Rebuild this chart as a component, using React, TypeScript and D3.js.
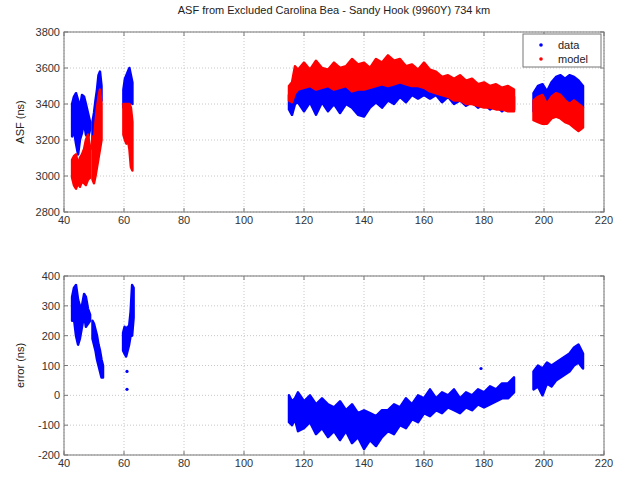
import React from "react";
import * as d3 from "d3";

const width = 631;
const height = 481;

const titleText = "ASF from Excluded Carolina Bea - Sandy Hook (9960Y) 734 km";
const xTicks = [40, 60, 80, 100, 120, 140, 160, 180, 200, 220];
const asfTicks = [2800, 3000, 3200, 3400, 3600, 3800];
const errTicks = [-200, -100, 0, 100, 200, 300, 400];

// each series is split in segments (gaps in the record); lo/hi = band edges of the dots
const seg1X = [42.7, 43.3, 44, 44.7, 45.3, 46, 46.7, 47.3, 48, 48.7];
const seg2X = [49.5, 50, 50.5, 51, 51.5, 52, 52.5];
const seg3X = [59.8, 60.3, 60.8, 61.3, 61.8, 62.3, 62.8];
const mainX = [115, 116, 117, 118, 120, 122, 124, 126, 128, 130, 132, 134, 136, 138, 140, 142, 144, 146, 148, 150,
  152, 154, 156, 158, 160, 162, 164, 166, 168, 170, 172, 174, 176, 178, 180, 182, 184, 186, 188, 190];
const lastX = [196.5, 198, 199.5, 201, 202.5, 204, 205.5, 207, 208.5, 210, 211.5, 213];

// ASF measured (blue)
const dataHi1 = [3400, 3440, 3460, 3420, 3380, 3450, 3440, 3400, 3350, 3300];
const dataLo1 = [3220, 3260, 3180, 3120, 3200, 3240, 3300, 3230, 3210, 3260];
const dataHi2 = [3300, 3350, 3420, 3480, 3560, 3580, 3500];
const dataLo2 = [3150, 3160, 3220, 3300, 3350, 3400, 3420];
const dataHi3 = [3480, 3540, 3560, 3580, 3600, 3560, 3520];
const dataLo3 = [3380, 3400, 3400, 3390, 3400, 3420, 3400];
const dataHiMain = [3450, 3470, 3480, 3500, 3510, 3520, 3500, 3510, 3520, 3500, 3510, 3520, 3500, 3510, 3490, 3520, 3530, 3540, 3550, 3540,
  3550, 3540, 3550, 3560, 3540, 3520, 3510, 3500, 3500, 3490, 3480, 3470, 3470, 3460, 3460, 3450, 3460, 3450, 3450, 3440];
const dataLoMain = [3370, 3340, 3400, 3410, 3360, 3410, 3340, 3410, 3360, 3400, 3350, 3400, 3380, 3340, 3330, 3380, 3410, 3380, 3420, 3400,
  3440, 3410, 3450, 3430, 3450, 3430, 3450, 3410, 3440, 3400, 3420, 3390, 3410, 3380, 3400, 3370, 3390, 3360, 3390, 3370];
const dataHiLast = [3460, 3500, 3510, 3470, 3520, 3550, 3560, 3540, 3560, 3550, 3530, 3500];
const dataLoLast = [3360, 3380, 3400, 3380, 3400, 3420, 3420, 3400, 3400, 3420, 3400, 3380];

// ASF model (red)
const modelHi1 = [3090, 3110, 3120, 3060, 3100, 3120, 3150, 3200, 3230, 3160];
const modelLo1 = [2990, 2950, 2930, 2960, 2940, 2970, 2960, 2950, 2980, 2990];
const modelHi2 = [3220, 3200, 3300, 3380, 3440, 3480, 3400];
const modelLo2 = [2980, 2960, 3000, 3050, 3100, 3150, 3200];
const modelHi3 = [3400, 3400, 3400, 3400, 3400, 3380, 3300];
const modelLo3 = [3230, 3200, 3180, 3200, 3150, 3050, 3030];
const modelHiMain = [3500, 3520, 3610, 3590, 3630, 3590, 3640, 3600, 3590, 3630, 3600, 3610, 3650, 3620, 3630, 3600, 3650, 3630, 3670, 3640,
  3650, 3610, 3620, 3590, 3630, 3590, 3580, 3550, 3560, 3540, 3560, 3530, 3540, 3510, 3520, 3500, 3510, 3490, 3500, 3480];
const modelLoMain = [3420, 3410, 3460, 3480, 3490, 3500, 3480, 3490, 3500, 3480, 3490, 3500, 3470, 3480, 3480, 3490, 3500, 3510, 3500, 3510,
  3520, 3510, 3500, 3500, 3490, 3470, 3460, 3450, 3440, 3420, 3420, 3400, 3400, 3390, 3380, 3380, 3370, 3370, 3360, 3360];
const modelHiLast = [3420, 3440, 3450, 3400, 3440, 3460, 3450, 3420, 3400, 3420, 3400, 3380];
const modelLoLast = [3310, 3300, 3290, 3290, 3320, 3330, 3320, 3300, 3290, 3270, 3250, 3270];

// error (blue)
const errX3 = [59.7, 60.2, 60.7, 61.2, 61.7, 62.2, 62.7, 63.2];
const errX2 = [49.5, 50, 50.5, 51, 51.5, 52, 52.5, 53];
const errHi1 = [330, 360, 370, 320, 300, 300, 340, 330, 290, 270];
const errLo1 = [250, 260, 200, 170, 190, 230, 270, 230, 240, 250];
const errHi2 = [250, 240, 220, 200, 170, 150, 120, 100];
const errLo2 = [190, 170, 150, 120, 100, 80, 60, 60];
const errHi3 = [210, 230, 220, 230, 230, 280, 370, 360];
const errLo3 = [150, 140, 130, 150, 170, 200, 200, 260];
const errHiMain = [0, -20, -10, 10, -20, 0, -30, -10, -30, -40, -20, -50, -30, -60, -50, -60, -70, -50, -50, -30,
  -40, -10, -30, 0, -10, 20, -10, 10, 0, 20, -10, 10, 0, 20, 10, 30, 20, 40, 40, 60];
const errLoMain = [-90, -100, -80, -120, -110, -90, -130, -110, -140, -120, -150, -120, -160, -140, -180, -150, -170, -140, -120, -130,
  -100, -110, -80, -90, -60, -70, -50, -60, -40, -50, -60, -40, -50, -30, -40, -30, -20, -10, -10, 10];
const errHiLast = [80, 100, 90, 110, 100, 110, 120, 130, 140, 160, 170, 140];
const errLoLast = [20, 30, 0, 40, 30, 50, 60, 70, 80, 100, 110, 90];
const errOutX = [61, 61, 179];
const errOutY = [80, 20, 90];

const top = { y0: 32, y1: 212 };
const bottom = { y0: 276, y1: 455 };
const left = 64;
const right = 604;

const x = d3.scaleLinear().domain([40, 220]).range([left, right]);
const yAsf = d3.scaleLinear().domain([2800, 3800]).range([top.y1, top.y0]);
const yErr = d3.scaleLinear().domain([-200, 400]).range([bottom.y1, bottom.y0]);

type Band = { xs: number[]; lo: number[]; hi: number[] };

function Bands({ bands, y, color }: { bands: Band[]; y: d3.ScaleLinear<number, number>; color: string }) {
  return (
    <g>
      {bands.map((b, k) => {
        const gen = d3.area<number>()
          .x((d) => x(d))
          .y0((_, i) => y(b.lo[i]))
          .y1((_, i) => y(b.hi[i]));
        return (
          <path key={k} d={gen(b.xs) || ""} fill={color} stroke={color} strokeWidth={2.5} strokeLinejoin="round" />
        );
      })}
    </g>
  );
}

function Frame({ y, ticks, y0, y1 }: { y: d3.ScaleLinear<number, number>; ticks: number[]; y0: number; y1: number }) {
  return (
    <g fontFamily="Arial, 'Liberation Sans', sans-serif" fontSize={11} fill="#333">
      {xTicks.map((t) => (
        <g key={"x" + t}>
          <line x1={x(t)} x2={x(t)} y1={y0} y2={y1} stroke="#c8c8c8" strokeDasharray="1,2" />
          <line x1={x(t)} x2={x(t)} y1={y1} y2={y1 - 4} stroke="#777" />
          <line x1={x(t)} x2={x(t)} y1={y0} y2={y0 + 4} stroke="#777" />
          <text x={x(t)} y={y1 + 12} textAnchor="middle">{t}</text>
        </g>
      ))}
      {ticks.map((t) => (
        <g key={"y" + t}>
          <line x1={left} x2={right} y1={y(t)} y2={y(t)} stroke="#c8c8c8" strokeDasharray="1,2" />
          <line x1={left} x2={left + 4} y1={y(t)} y2={y(t)} stroke="#777" />
          <line x1={right} x2={right - 4} y1={y(t)} y2={y(t)} stroke="#777" />
          <text x={left - 4} y={y(t) + 4} textAnchor="end">{t}</text>
        </g>
      ))}
      <rect x={left} y={y0} width={right - left} height={y1 - y0} fill="none" stroke="#777" />
    </g>
  );
}

export default function App() {
  const dataBands: Band[] = [
    { xs: seg1X, lo: dataLo1, hi: dataHi1 },
    { xs: seg2X, lo: dataLo2, hi: dataHi2 },
    { xs: seg3X, lo: dataLo3, hi: dataHi3 },
    { xs: mainX, lo: dataLoMain, hi: dataHiMain },
    { xs: lastX, lo: dataLoLast, hi: dataHiLast },
  ];
  const modelBands: Band[] = [
    { xs: seg1X, lo: modelLo1, hi: modelHi1 },
    { xs: seg2X, lo: modelLo2, hi: modelHi2 },
    { xs: seg3X, lo: modelLo3, hi: modelHi3 },
    { xs: mainX, lo: modelLoMain, hi: modelHiMain },
    { xs: lastX, lo: modelLoLast, hi: modelHiLast },
  ];
  const errBands: Band[] = [
    { xs: seg1X, lo: errLo1, hi: errHi1 },
    { xs: errX2, lo: errLo2, hi: errHi2 },
    { xs: errX3, lo: errLo3, hi: errHi3 },
    { xs: mainX, lo: errLoMain, hi: errHiMain },
    { xs: lastX, lo: errLoLast, hi: errHiLast },
  ];
  const font = "Arial, 'Liberation Sans', sans-serif";

  return (
    <svg width={width} height={height} style={{ position: "absolute", left: 0, top: 0, background: "#fff" }}>
      <rect width={width} height={height} fill="#fff" />
      <Frame y={yAsf} ticks={asfTicks} y0={top.y0} y1={top.y1} />
      <Frame y={yErr} ticks={errTicks} y0={bottom.y0} y1={bottom.y1} />

      <Bands bands={dataBands} y={yAsf} color="#0000ff" />
      <Bands bands={modelBands} y={yAsf} color="#ff0000" />
      <Bands bands={errBands} y={yErr} color="#0000ff" />
      {errOutX.map((v, i) => (
        <circle key={i} cx={x(v)} cy={yErr(errOutY[i])} r={1.6} fill="#0000ff" />
      ))}

      <text x={(left + right) / 2} y={14} textAnchor="middle" fontFamily={font} fontSize={11} fill="#222">{titleText}</text>
      <text transform={`translate(24,${(top.y0 + top.y1) / 2}) rotate(-90)`} textAnchor="middle" fontFamily={font} fontSize={11} fill="#222">ASF (ns)</text>
      <text transform={`translate(24,${(bottom.y0 + bottom.y1) / 2}) rotate(-90)`} textAnchor="middle" fontFamily={font} fontSize={11} fill="#222">error (ns)</text>

      <g fontFamily={font} fontSize={11} fill="#222">
        <rect x={523} y={34} width={78} height={33} fill="#fff" stroke="#777" />
        <circle cx={541} cy={45} r={1.8} fill="#0000ff" />
        <text x={558} y={49}>data</text>
        <circle cx={541} cy={59} r={1.8} fill="#ff0000" />
        <text x={558} y={63}>model</text>
      </g>
    </svg>
  );
}
